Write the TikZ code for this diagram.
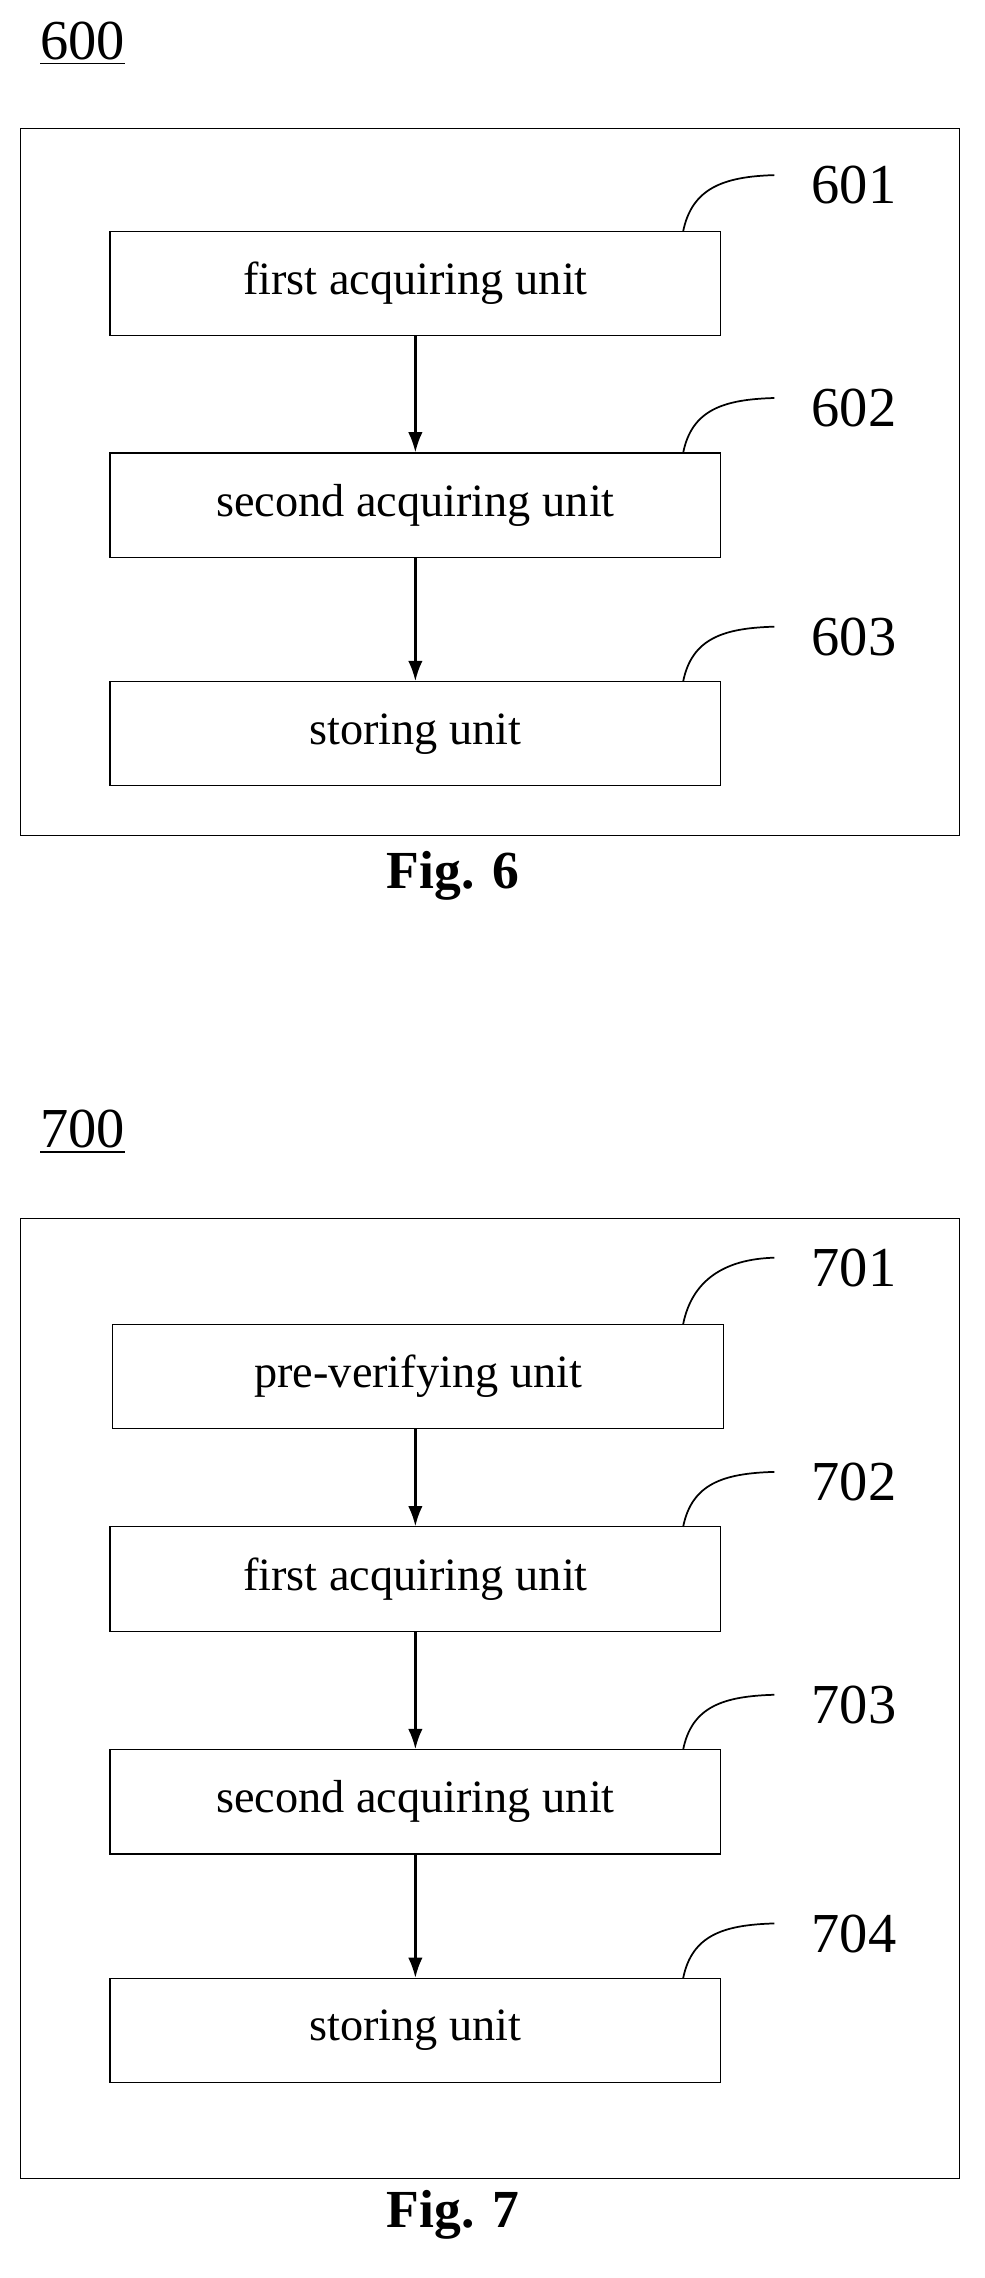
\documentclass[tikz,border=0pt]{standalone}
\usepackage{fontspec}
\setmainfont{Liberation Serif}
\usetikzlibrary{positioning,arrows.meta}
\begin{document}
\begin{tikzpicture}
  [x=0.5pt, y=-0.5pt,
   unit/.style={draw, rectangle, minimum width=211pt, minimum height=36pt, inner sep=0pt, font=\fontsize{16}{19}\selectfont},
   num/.style={font=\fontsize{19.5}{23}\selectfont},
   caption/.style={font=\fontsize{18.5}{22}\selectfont\bfseries},
   flow/.style={-{Latex[length=7pt,width=5pt]}, line width=0.8pt},
   tag/.style={line width=0.6pt}]

  \useasboundingbox (0,0) rectangle (680,1574);

  % Fig. 6
  \node[num] (n600) at (57,30) {\underline{600}};
  \draw (14,89) rectangle (663,577);
  \node[unit] (a1) at (287,196) {first acquiring unit};
  \node[unit] (a2) at (287,349) {second acquiring unit};
  \node[unit] (a3) at (287,507) {storing unit};
  \draw[flow] (a1) -- (a2);
  \draw[flow] (a2) -- (a3);
  \node[num] (l601) at (590,128) {601};
  \node[num] (l602) at (590,282) {602};
  \node[num] (l603) at (590,440) {603};
  \coordinate (c601) at (535,121);
  \coordinate (c602) at (535,275);
  \coordinate (c603) at (535,433);
  \draw[tag] (472,160) .. controls (478,130) and (500,122) .. (c601);
  \draw[tag] (472,313) .. controls (478,283) and (500,276) .. (c602);
  \draw[tag] (472,471) .. controls (478,441) and (500,434) .. (c603);
  \node[caption] (f6) at (313,605) {Fig. 6};

  % Fig. 7
  \node[num] (n700) at (57,782) {\underline{700}};
  \draw (14,842) rectangle (663,1505);
  \node[unit] (b1) at (289,951) {pre-verifying unit};
  \node[unit] (b2) at (287,1091) {first acquiring unit};
  \node[unit] (b3) at (287,1245) {second acquiring unit};
  \node[unit] (b4) at (287,1403) {storing unit};
  \draw[flow] (b1.south -| a1) -- (b2);
  \draw[flow] (b2) -- (b3);
  \draw[flow] (b3) -- (b4);
  \node[num] (l701) at (590,876) {701};
  \node[num] (l702) at (590,1024) {702};
  \node[num] (l703) at (590,1178) {703};
  \node[num] (l704) at (590,1336) {704};
  \coordinate (c701) at (535,869);
  \coordinate (c702) at (535,1017);
  \coordinate (c703) at (535,1171);
  \coordinate (c704) at (535,1329);
  \draw[tag] (472,915) .. controls (478,885) and (500,870) .. (c701);
  \draw[tag] (472,1055) .. controls (478,1025) and (500,1018) .. (c702);
  \draw[tag] (472,1209) .. controls (478,1179) and (500,1172) .. (c703);
  \draw[tag] (472,1367) .. controls (478,1337) and (500,1330) .. (c704);
  \node[caption] (f7) at (313,1530) {Fig. 7};
\end{tikzpicture}
\end{document}
